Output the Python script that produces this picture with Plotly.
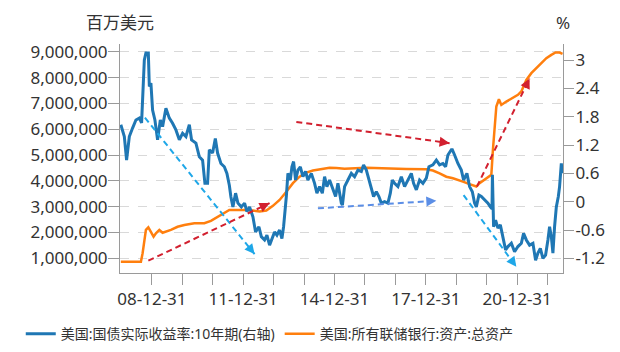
import plotly.graph_objects as go
from datetime import date

# ---------------- data ----------------
blue_name = "美国:国债实际收益率:10年期(右轴)"
orange_name = "美国:所有联储银行:资产:总资产"

blue_dates = [
    "2007-12-24", "2008-02-04", "2008-03-02", "2008-04-04", "2008-05-13", "2008-06-22",
    "2008-08-02", "2008-08-29", "2008-10-01", "2008-10-20", "2008-11-18", "2008-11-30",
    "2008-12-19", "2009-01-08", "2009-02-05", "2009-03-09", "2009-04-11", "2009-05-08",
    "2009-06-17", "2009-07-28", "2009-09-05", "2009-10-15", "2009-11-25", "2010-01-03",
    "2010-02-12", "2010-03-25", "2010-04-21", "2010-06-12", "2010-07-23", "2010-08-31",
    "2010-09-28", "2010-10-30", "2010-11-20", "2010-12-29", "2011-01-31", "2011-02-27",
    "2011-04-08", "2011-05-19", "2011-06-19", "2011-07-18", "2011-08-06", "2011-08-30",
    "2011-10-01", "2011-10-29", "2011-12-09", "2012-01-17", "2012-02-14", "2012-03-17",
    "2012-04-26", "2012-05-28", "2012-07-07", "2012-08-05", "2012-09-13", "2012-10-11",
    "2012-11-12", "2012-12-15", "2013-01-11", "2013-02-08", "2013-03-12", "2013-04-09",
    "2013-04-29", "2013-06-01", "2013-06-20", "2013-07-19", "2013-08-07", "2013-08-27",
    "2013-09-20", "2013-10-18", "2013-11-16", "2013-12-17", "2014-01-18", "2014-02-15",
    "2014-03-28", "2014-05-06", "2014-06-03", "2014-07-05", "2014-08-07", "2014-09-03",
    "2014-10-01", "2014-11-02", "2014-12-12", "2015-01-13", "2015-02-10", "2015-03-23",
    "2015-04-05", "2015-05-01", "2015-06-10", "2015-07-21", "2015-08-29", "2015-10-08",
    "2015-11-18", "2015-12-15", "2016-01-17", "2016-02-17", "2016-03-17", "2016-04-13",
    "2016-05-16", "2016-06-16", "2016-07-15", "2016-08-23", "2016-10-02", "2016-10-31",
    "2016-11-24", "2016-12-21", "2017-01-30", "2017-03-12", "2017-04-20", "2017-05-30",
    "2017-07-10", "2017-08-06", "2017-09-08", "2017-10-17", "2017-11-26", "2018-01-06",
    "2018-02-06", "2018-03-26", "2018-05-06", "2018-06-14", "2018-07-24", "2018-08-25",
    "2018-09-22", "2018-11-02", "2018-11-14", "2018-12-11", "2019-01-20", "2019-03-02",
    "2019-03-29", "2019-05-08", "2019-06-09", "2019-07-12", "2019-08-08", "2019-08-29",
    "2019-09-29", "2019-10-28", "2019-12-06", "2020-01-15", "2020-02-13", "2020-03-04",
    "2020-03-09", "2020-03-23", "2020-04-16", "2020-05-14", "2020-06-12", "2020-07-13",
    "2020-08-14", "2020-09-11", "2020-10-22", "2020-11-30", "2021-01-09", "2021-02-19",
    "2021-03-18", "2021-04-20", "2021-05-29", "2021-07-08", "2021-08-09", "2021-09-06",
    "2021-10-05", "2021-11-05", "2021-12-07", "2022-01-04", "2022-01-24", "2022-02-14",
    "2022-03-05", "2022-03-25", "2022-04-15", "2022-05-09", "2022-05-24", "2022-06-14",
    "2022-06-26",
]
blue_vals = [
    1.63, 1.38, 0.88, 1.38, 1.56, 1.73,
    1.77, 1.67, 3.00, 3.15, 3.15, 2.44,
    2.51, 1.94, 1.73, 1.31, 1.73, 1.59,
    1.98, 1.77, 1.66, 1.52, 1.31, 1.45,
    1.38, 1.63, 1.31, 1.24, 0.95, 0.88,
    0.39, 0.39, 1.10, 1.03, 1.34, 1.03,
    0.81, 0.74, 0.60, 0.35, 0.10, -0.11,
    0.18, -0.03, -0.11, -0.03, -0.21, -0.11,
    -0.32, -0.64, -0.53, -0.74, -0.81, -0.71,
    -0.92, -0.78, -0.64, -0.71, -0.60, -0.78,
    -0.53, 0.11, 0.60, 0.46, 0.74, 0.85,
    0.46, 0.67, 0.74, 0.53, 0.64, 0.46,
    0.60, 0.39, 0.18, 0.32, 0.18, 0.53,
    0.32, 0.46, 0.25, 0.11, 0.39, -0.03,
    -0.07, 0.32, 0.46, 0.60, 0.53, 0.67,
    0.64, 0.78, 0.67, 0.46, 0.25, 0.11,
    0.21, 0.11, -0.03, 0.00, -0.03, 0.18,
    0.46, 0.39, 0.32, 0.53, 0.32, 0.46,
    0.60, 0.39, 0.25, 0.46, 0.39, 0.50,
    0.74, 0.78, 0.88, 0.78, 0.81, 0.74,
    0.99, 1.10, 1.10, 0.99, 0.81, 0.67,
    0.46, 0.60, 0.32, 0.21, -0.03, -0.11,
    0.14, 0.11, 0.04, -0.03, -0.11, -0.15,
    0.57, -0.53, -0.39, -0.56, -0.49, -0.74,
    -1.02, -0.95, -0.88, -1.06, -0.95, -0.88,
    -0.67, -0.81, -0.92, -0.88, -1.24, -1.09,
    -0.99, -1.20, -1.13, -0.81, -0.53, -0.74,
    -1.09, -0.53, -0.11, 0.11, 0.32, 0.81,
    0.60,
]

orange_dates = [
    "2007-12-24", "2008-08-21", "2008-09-10", "2008-10-20", "2008-11-18", "2008-12-19",
    "2009-01-20", "2009-02-17", "2009-03-30", "2009-05-08", "2009-06-17", "2009-08-16",
    "2009-11-04", "2010-01-24", "2010-05-24", "2010-09-21", "2010-12-09", "2011-02-27",
    "2011-05-19", "2011-07-18", "2011-11-18", "2012-03-17", "2012-07-15", "2012-10-04",
    "2012-12-22", "2013-03-12", "2013-06-01", "2013-08-19", "2013-11-07", "2014-01-27",
    "2014-04-16", "2014-07-26", "2014-11-02", "2015-01-22", "2015-05-01", "2016-01-17",
    "2016-12-01", "2017-05-10", "2018-01-06", "2018-03-26", "2018-06-14", "2018-09-03",
    "2018-11-21", "2019-01-01", "2019-03-21", "2019-06-09", "2019-08-29", "2019-10-07",
    "2019-12-27", "2020-02-25", "2020-03-15", "2020-04-04", "2020-04-25", "2020-05-26",
    "2020-06-24", "2020-08-23", "2020-11-10", "2021-01-09", "2021-02-19", "2021-04-20",
    "2021-06-19", "2021-08-18", "2021-10-17", "2021-12-16", "2022-02-14", "2022-04-06",
    "2022-05-24", "2022-06-29",
]
orange_vals = [
    870000, 870000, 1190000, 2100000, 2200000, 2030000,
    1840000, 1970000, 2100000, 1990000, 2030000, 2100000,
    2220000, 2290000, 2360000, 2360000, 2450000, 2610000,
    2770000, 2870000, 2870000, 2870000, 2810000, 2850000,
    3030000, 3260000, 3580000, 3910000, 4160000, 4320000,
    4400000, 4470000, 4510000, 4500000, 4470000, 4510000,
    4470000, 4460000, 4450000, 4400000, 4290000, 4160000,
    4100000, 4060000, 3970000, 3870000, 3780000, 3910000,
    4100000, 4230000, 5200000, 6230000, 6880000, 7160000,
    6940000, 7070000, 7200000, 7330000, 7460000, 7910000,
    8170000, 8360000, 8560000, 8750000, 8880000, 8970000,
    8970000, 8920000,
]

x_tick_vals = [
    "2008-12-31", "2009-12-31", "2010-12-31", "2011-12-31", "2012-12-31", "2013-12-31",
    "2014-12-31", "2015-12-31", "2016-12-31", "2017-12-31", "2018-12-31", "2019-12-31",
    "2020-12-31", "2021-12-31",
]
x_tick_text = [
    "08-12-31", "", "", "11-12-31", "", "", "14-12-31", "", "", "17-12-31", "", "",
    "20-12-31", "",
]
left_tick_vals = [1000000, 2000000, 3000000, 4000000, 5000000, 6000000, 7000000, 8000000, 9000000]
right_tick_vals = [-1.2, -0.6, 0, 0.6, 1.2, 1.8, 2.4, 3]
right_tick_text = ["-1.2", "-0.6", "0", "0.6", "1.2", "1.8", "2.4", "3"]

# trend arrows (start date, start %, end date, end %, colour), on the right axis
arrows = [
    ("2008-10-08", 1.78, "2012-05-16", -1.11, "#1EA7E8"),
    ("2008-11-18", -1.25, "2012-11-12", -0.03, "#D2202F"),
    ("2013-09-29", 1.69, "2018-10-12", 1.24, "#D2202F"),
    ("2014-06-15", -0.14, "2018-05-06", 0.02, "#5B8EE6"),
    ("2019-09-05", 0.32, "2021-05-29", 2.61, "#D2202F"),
    ("2019-03-29", 0.14, "2020-12-21", -1.38, "#1EA7E8"),
]

# ---------------- layout constants ----------------
W, H = 620, 352
ML, MR, MT, MB = 120, 57, 44, 79
X_RANGE = ["2007-12-14", "2022-07-04"]
Y_RANGE = [430000, 9300000]
Y2_RANGE = [-1.51, 3.34]
FONT = "Noto Sans, Noto Sans CJK SC, sans-serif"
TXT = "#333333"
AXC = "#9a9a9a"

BLUE = "#1f77b4"
ORANGE = "#ff7f0e"

fig = go.Figure()
fig.add_trace(go.Scatter(x=orange_dates, y=orange_vals, name=orange_name, mode="lines",
                         line=dict(color=ORANGE, width=2.5), yaxis="y"))
fig.add_trace(go.Scatter(x=blue_dates, y=blue_vals, name=blue_name, mode="lines",
                         line=dict(color=BLUE, width=3), yaxis="y2"))

# arrows: dashed shaft + arrow head
def dnum(s):
    y, m, d = map(int, s.split("-"))
    return date(y, m, d).toordinal()

pw, ph = W - ML - MR, H - MT - MB
d0, d1 = dnum(X_RANGE[0]), dnum(X_RANGE[1])

def to_px(ds, v):
    px = ML + (dnum(ds) - d0) / (d1 - d0) * pw
    py = MT + (Y2_RANGE[1] - v) / (Y2_RANGE[1] - Y2_RANGE[0]) * ph
    return px, py

shapes = []
annotations = []
for (xs, ys, xe, ye, col) in arrows:
    shapes.append(dict(type="line", xref="x", yref="y2", x0=xs, y0=ys, x1=xe, y1=ye,
                       line=dict(color=col, width=2, dash="6px,4px"), layer="above"))
    p0 = to_px(xs, ys)
    p1 = to_px(xe, ye)
    dx, dy = p1[0] - p0[0], p1[1] - p0[1]
    L = (dx * dx + dy * dy) ** 0.5
    ux, uy = dx / L, dy / L
    annotations.append(dict(x=xe, y=ye, xref="x", yref="y2", text="", showarrow=True,
                            ax=-ux * 7, ay=-uy * 7, arrowhead=2, arrowsize=1,
                            arrowwidth=2, arrowcolor=col, standoff=0))

annotations.append(dict(text="百万美元", xref="paper", yref="paper", x=0, y=1 + 22 / ph,
                        xanchor="center", yanchor="middle", showarrow=False,
                        font=dict(size=17, color=TXT, family=FONT)))
annotations.append(dict(text="%", xref="paper", yref="paper", x=1, y=1 + 22 / ph,
                        xanchor="center", yanchor="middle", showarrow=False,
                        font=dict(size=17, color=TXT, family=FONT)))

fig.update_layout(
    width=W, height=H,
    margin=dict(l=ML, r=MR, t=MT, b=MB, autoexpand=False),
    paper_bgcolor="white", plot_bgcolor="white",
    font=dict(family=FONT, size=17, color=TXT),
    showlegend=True,
    legend=dict(orientation="h", x=-0.224, xanchor="left", y=-0.267, yanchor="middle",
                font=dict(size=14, color=TXT, family=FONT), traceorder="reversed",
                bgcolor="rgba(0,0,0,0)"),
    xaxis=dict(type="date", range=X_RANGE, tickvals=x_tick_vals, ticktext=x_tick_text,
               showline=True, linecolor=AXC, linewidth=1, ticks="outside", ticklen=11,
               tickcolor=AXC, showgrid=False, zeroline=False,
               tickfont=dict(size=17, color=TXT)),
    yaxis=dict(range=Y_RANGE, tickvals=left_tick_vals, tickformat=",d",
               showline=True, linecolor=AXC, linewidth=1, ticks="outside", ticklen=11,
               tickcolor=AXC, showgrid=True, gridcolor="#d9d9d9", griddash="dash",
               gridwidth=1, zeroline=False, tickfont=dict(size=17, color=TXT),
               ticklabelstandoff=-3),
    yaxis2=dict(range=Y2_RANGE, tickvals=right_tick_vals, ticktext=right_tick_text,
                overlaying="y", side="right", showline=True, linecolor=AXC, linewidth=1,
                ticks="outside", ticklen=10, tickcolor=AXC, showgrid=False, zeroline=False,
                tickfont=dict(size=17, color=TXT), ticklabelstandoff=-2),
    shapes=shapes,
    annotations=annotations,
)

fig.write_html("out.html")
